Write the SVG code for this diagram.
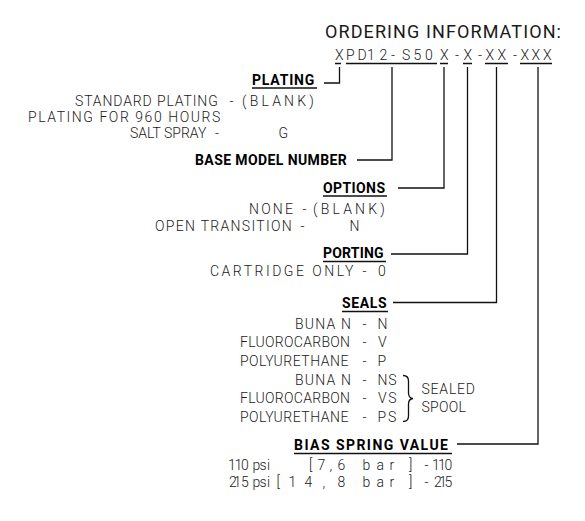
<svg xmlns="http://www.w3.org/2000/svg" width="585" height="521" viewBox="0 0 585 521">
<style>
text{font-family:Roboto,"Liberation Sans",sans-serif;font-weight:300;font-size:14px;fill:#1a1a1a;}
.h{font-size:18px;font-weight:400;letter-spacing:1.1px;}
.b{font-weight:bold;fill:#000;}
.u{stroke:#111;stroke-width:1.4;fill:none;}
.c{stroke:#111;stroke-width:1.3;fill:none;}
</style>
<rect width="585" height="521" fill="#fff"/>
<g id="title">
<text class="h" x="325" y="38">ORDERING INFORMATION:</text>
<text x="335 346 357.5 367 379.5 391 402 413.5 425 440 455 463.5 478 485.5 497.5 513 520.5 531.5 543" y="60" font-size="14.5">XPD12-S50X-X-XX-XXX</text>
<path class="u" d="M335 63.5H341M346 63.5H437M440 63.5H448M463 63.5H472M485 63.5H508M520 63.5H552"/>
</g>
<g id="plating">
<text class="b" x="252" y="85" style="letter-spacing:0.8px">PLATING</text>
<path class="u" d="M252 88H317"/>
<text y="105.5"><tspan x="75" style="letter-spacing:0.87px">STANDARD PLATING </tspan><tspan x="229.5">- </tspan><tspan x="242" style="letter-spacing:3.2px">(BLANK)</tspan></text>
<text x="28" y="121.7" style="letter-spacing:1.55px">PLATING FOR 960 HOURS</text>
<text y="138"><tspan x="130">SALT SPRAY </tspan><tspan x="215">- </tspan><tspan x="278.5">G</tspan></text>
</g>
<g id="base-model">
<text class="b" x="195" y="165" style="letter-spacing:0.4px">BASE MODEL NUMBER</text>
</g>
<g id="options">
<text class="b" x="323" y="192.5" style="letter-spacing:0.4px">OPTIONS</text>
<path class="u" d="M323 196H387"/>
<text y="214"><tspan x="249" style="letter-spacing:2.2px">NONE </tspan><tspan x="302.5">- </tspan><tspan x="313" style="letter-spacing:3.2px">(BLANK)</tspan></text>
<text y="230.7"><tspan x="155" style="letter-spacing:1.3px">OPEN TRANSITION </tspan><tspan x="300.5">- </tspan><tspan x="349.5">N</tspan></text>
</g>
<g id="porting">
<text class="b" x="323" y="258.3" style="letter-spacing:0.2px">PORTING</text>
<path class="u" d="M323 261.5H386"/>
<text y="276"><tspan x="210" style="letter-spacing:2.5px">CARTRIDGE ONLY </tspan><tspan x="362.5">- </tspan><tspan x="378">0</tspan></text>
</g>
<g id="seals">
<text class="b" x="342" y="308" style="letter-spacing:0.6px">SEALS</text>
<path class="u" d="M342 311.5H388"/>
<text y="328.5"><tspan x="295" style="letter-spacing:1.2px">BUNA N </tspan><tspan x="362.5">- </tspan><tspan x="377.5">N</tspan></text>
<text y="347.3"><tspan x="240" style="letter-spacing:0.3px">FLUOROCARBON </tspan><tspan x="362.5">- </tspan><tspan x="378">V</tspan></text>
<text y="366"><tspan x="240" style="letter-spacing:0.5px">POLYURETHANE </tspan><tspan x="362.5">- </tspan><tspan x="377.5">P</tspan></text>
<text y="384.5"><tspan x="295" style="letter-spacing:1.2px">BUNA N </tspan><tspan x="362.5">- </tspan><tspan x="377.5" style="letter-spacing:0.7px">NS</tspan></text>
<text y="403"><tspan x="240" style="letter-spacing:0.3px">FLUOROCARBON </tspan><tspan x="362.5">- </tspan><tspan x="378" style="letter-spacing:1.6px">VS</tspan></text>
<text y="421.5"><tspan x="240" style="letter-spacing:0.5px">POLYURETHANE </tspan><tspan x="362.5">- </tspan><tspan x="377.5" style="letter-spacing:1.8px">PS</tspan></text>
<path class="c" stroke-width="1.1" d="M403 375.5Q408.5 375.5 408.5 381V393Q408.5 398 413 398.5Q408.5 399 408.5 404V416Q408.5 421.5 403 421.5"/>
<text x="421.5" y="394" style="letter-spacing:0.8px">SEALED</text>
<text x="421.5" y="411.7" style="letter-spacing:0.25px">SPOOL</text>
</g>
<g id="bias-spring">
<text class="b" x="294" y="450" style="letter-spacing:1.45px">BIAS SPRING VALUE</text>
<path class="u" d="M294 453.5H452"/>
<text x="228 234.5 241 250 252.5 259.5 267 270 309 317.5 329.5 337.5 346 362.5 376.5 389.5 409 412 424.5 429 432 438 444.5" y="470">110 psi [7,6 bar] - 110</text>
<text x="229 233.5 241 249 252.5 259.5 267 270 276.5 288.5 304.5 322.5 337.5 346 362.5 376.5 389.5 409 412 424.5 429 434 439 444.5" y="486.7">215 psi [14,8 bar] - 215</text>
</g>
<g id="connectors">
<path class="c" d="M324 83H339.5V67"/>
<path class="c" d="M357 160H392V67"/>
<path class="c" d="M398 188H444V67"/>
<path class="c" d="M391 254H467.5V67"/>
<path class="c" d="M393 302.5H496.5V67"/>
<path class="c" d="M457 444H538V67"/>
</g>
</svg>
